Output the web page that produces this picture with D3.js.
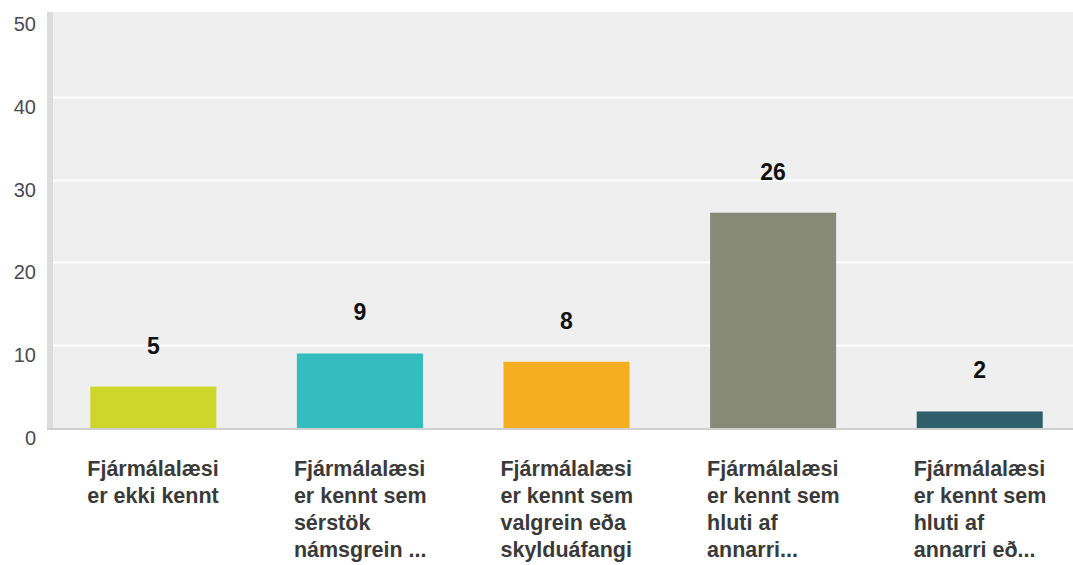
<!DOCTYPE html>
<html>
<head>
<meta charset="utf-8">
<script src="https://cdn.jsdelivr.net/npm/d3@7"></script>
<style>
  body { margin: 0; background: #fff; }
  svg { display: block; font-family: "Liberation Sans", Arial, sans-serif; }
</style>
</head>
<body>
<svg id="chart"></svg>
<script>
// Chart data
const categories = [
  ["Fjármálalæsi", "er ekki kennt"],
  ["Fjármálalæsi", "er kennt sem", "sérstök", "námsgrein ..."],
  ["Fjármálalæsi", "er kennt sem", "valgrein eða", "skylduáfangi"],
  ["Fjármálalæsi", "er kennt sem", "hluti af", "annarri..."],
  ["Fjármálalæsi", "er kennt sem", "hluti af", "annarri eð..."]
];
const values = [5, 9, 8, 26, 2];
const barColors = ["#cfd62a", "#33bdbf", "#f5ae1f", "#888a78", "#2f5f6b"];
const yTicks = [0, 10, 20, 30, 40, 50];

const W = 1073, H = 565;
const svg = d3.select("#chart").attr("width", W).attr("height", H);

const plotLeft = 50, plotRight = 1083, plotTop = 12, plotBottom = 428;

const x = d3.scaleBand()
  .domain(d3.range(values.length))
  .range([plotLeft, plotRight])
  .paddingInner(0.39)
  .paddingOuter(0.195);

const y = d3.scaleLinear()
  .domain([0, 50])
  .range([plotBottom, 14]);

// plot background
svg.append("rect")
  .attr("x", plotLeft)
  .attr("y", plotTop)
  .attr("width", W - plotLeft)
  .attr("height", plotBottom - plotTop)
  .attr("fill", "#efefef");

// left axis strip
svg.append("rect")
  .attr("x", 47)
  .attr("y", plotTop)
  .attr("width", 6)
  .attr("height", plotBottom - plotTop + 2)
  .attr("fill", "#dcdcdc");

// gridlines
svg.append("g")
  .selectAll("line")
  .data(yTicks.filter(d => d > 0 && d < 50))
  .join("line")
  .attr("x1", 53)
  .attr("x2", W)
  .attr("y1", d => Math.round(y(d)) + 0.5)
  .attr("y2", d => Math.round(y(d)) + 0.5)
  .attr("stroke", "#ffffff")
  .attr("stroke-width", 2);

// y tick labels
svg.append("g")
  .selectAll("text")
  .data(yTicks)
  .join("text")
  .attr("x", 36)
  .attr("y", d => y(d) + 17)
  .attr("text-anchor", "end")
  .attr("font-size", 20)
  .attr("fill", "#4a4a55")
  .text(d => d);

// bars
svg.append("g")
  .selectAll("rect")
  .data(values)
  .join("rect")
  .attr("x", (d, i) => x(i))
  .attr("y", d => y(d))
  .attr("width", x.bandwidth())
  .attr("height", d => plotBottom - y(d))
  .attr("fill", (d, i) => barColors[i]);

// bottom axis line
svg.append("line")
  .attr("x1", 47)
  .attr("x2", W)
  .attr("y1", plotBottom + 1)
  .attr("y2", plotBottom + 1)
  .attr("stroke", "#cfcfcf")
  .attr("stroke-width", 2);

// value labels
svg.append("g")
  .selectAll("text")
  .data(values)
  .join("text")
  .attr("x", (d, i) => x(i) + x.bandwidth() / 2)
  .attr("y", d => y(d) - 33)
  .attr("text-anchor", "middle")
  .attr("font-size", 23)
  .attr("font-weight", "bold")
  .attr("fill", "#111")
  .text(d => d);

// category labels
const cat = svg.append("g")
  .selectAll("text")
  .data(categories)
  .join("text")
  .attr("x", (d, i) => x(i) - 3)
  .attr("y", 476)
  .attr("font-size", 21.5)
  .attr("font-weight", "bold")
  .attr("fill", "#3a3a3a");

cat.selectAll("tspan")
  .data(d => d)
  .join("tspan")
  .attr("x", function () { return d3.select(this.parentNode).attr("x"); })
  .attr("dy", (d, i) => i === 0 ? 0 : 27)
  .text(d => d);
</script>
</body>
</html>
